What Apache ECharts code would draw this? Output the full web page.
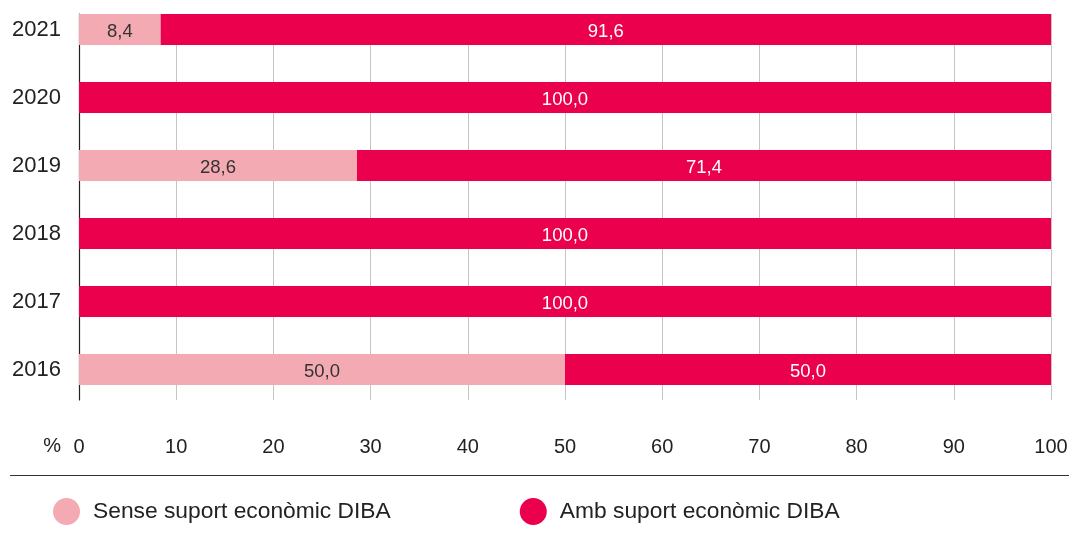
<!DOCTYPE html>
<html>
<head>
<meta charset="utf-8">
<script src="https://cdn.jsdelivr.net/npm/echarts@6/dist/echarts.min.js"></script>
<style>
  html, body { margin: 0; padding: 0; background: #fff; }
  #cnv { width: 1069px; height: 533px; }
</style>
</head>
<body>
<div id="cnv"></div>
<script>
var years = ['2021', '2020', '2019', '2018', '2017', '2016'];
var senseSuport = [8.4, 0, 28.6, 0, 0, 50.0];
var ambSuport = [91.6, 100.0, 71.4, 100.0, 100.0, 50.0];
var xTicks = [0, 100, 10]; // min, max, interval

var font = '"Liberation Sans", Arial, sans-serif';
var lightPink = '#f4aab3';
var red = '#ea004c';

function fmt(p) {
    if (!p.value) return '';
    return p.value.toFixed(1).replace('.', ',');
}

var main = document.getElementById('cnv');
var myechart = echarts.init(main);
var option = {
    animation: false,
    textStyle: { fontFamily: font },
    grid: [
        // bars
        { left: 79, right: 18, top: -4.5, height: 408, outerBoundsMode: 'none', containLabel: false },
        // axis lines, grid lines, tick labels
        { left: 79, right: 18, top: 14, height: 386, outerBoundsMode: 'none', containLabel: false }
    ],
    xAxis: [
        {
            gridIndex: 0, type: 'value', min: xTicks[0], max: xTicks[1], interval: xTicks[2],
            show: false
        },
        {
            gridIndex: 1, type: 'value', min: xTicks[0], max: xTicks[1], interval: xTicks[2],
            axisLine: { show: false },
            axisTick: { show: false },
            axisLabel: { fontSize: 20, color: '#222', margin: 37 },
            splitLine: { show: true, lineStyle: { color: '#c4c4c4', width: 1 } }
        }
    ],
    yAxis: [
        {
            gridIndex: 0, type: 'category', data: years, inverse: true,
            axisLine: { show: false },
            axisTick: { show: false },
            axisLabel: { fontSize: 22, color: '#222', margin: 18 }
        },
        {
            gridIndex: 1, type: 'category', data: years, inverse: true,
            axisLine: { show: true, lineStyle: { color: '#222', width: 1.2 } },
            axisTick: { show: false },
            axisLabel: { show: false }
        }
    ],
    legend: {
        left: 48, top: 493,
        icon: 'circle', itemWidth: 27, itemHeight: 27, itemGap: 129,
        textStyle: { fontSize: 22.8, color: '#222', padding: [0, 0, 0, 8] },
        data: ['Sense suport econòmic DIBA', 'Amb suport econòmic DIBA']
    },
    graphic: [
        { type: 'line', shape: { x1: 10, y1: 475.5, x2: 1069, y2: 475.5 }, style: { stroke: '#333', lineWidth: 1.2 } },
        { type: 'text', x: 61, y: 446, style: { text: '%', font: '20px ' + font, fill: '#222', align: 'right', verticalAlign: 'middle' } }
    ],
    series: [
        {
            name: 'Sense suport econòmic DIBA', type: 'bar', stack: 'a',
            xAxisIndex: 0, yAxisIndex: 0, barWidth: 31,
            itemStyle: { color: lightPink },
            label: { show: true, position: 'inside', offset: [0, 2], color: '#333', fontSize: 18.5, formatter: fmt },
            data: senseSuport
        },
        {
            name: 'Amb suport econòmic DIBA', type: 'bar', stack: 'a',
            xAxisIndex: 0, yAxisIndex: 0, barWidth: 31,
            itemStyle: { color: red },
            label: { show: true, position: 'inside', offset: [0, 2], color: '#fff', fontSize: 18.5, formatter: fmt },
            data: ambSuport
        }
    ]
};
myechart.setOption(option);
</script>
</body>
</html>
